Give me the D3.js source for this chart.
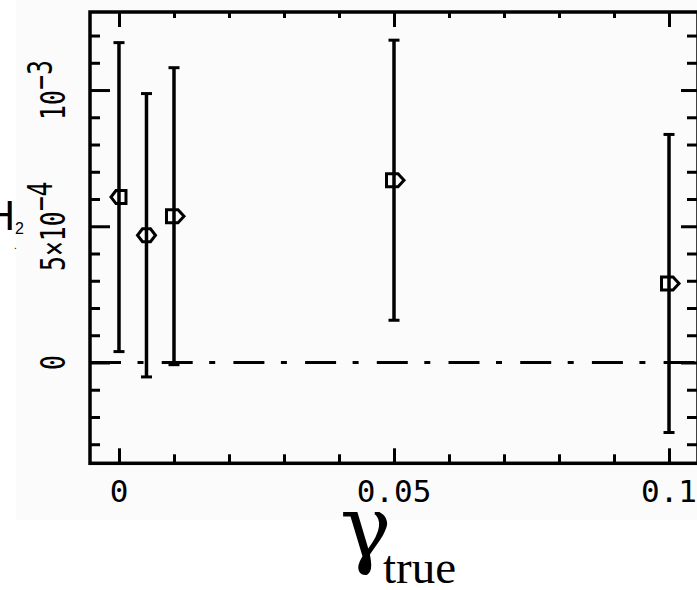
<!DOCTYPE html>
<html>
<head>
<meta charset="utf-8">
<script src="https://cdn.jsdelivr.net/npm/d3@7"></script>
<style>
  html, body { margin: 0; padding: 0; background: #ffffff; }
  svg { display: block; }
</style>
</head>
<body>
<div id="chart"></div>
<script>
// ---- data ----
const gammaTrue = [0, 0.005, 0.01, 0.05, 0.1];
const bias      = [6.07e-4, 4.67e-4, 5.37e-4, 6.69e-4, 2.90e-4];
const biasErr   = [5.67e-4, 5.20e-4, 5.45e-4, 5.14e-4, 5.47e-4];

const xMajorTicks = [0, 0.05, 0.1];
const xTickLabels = ["0", "0.05", "0.1"];
const xMinorTicks = [0.01, 0.02, 0.03, 0.04, 0.06, 0.07, 0.08, 0.09];

const yMajorTicks = [0, 5e-4, 1e-3];
const yMinorTicks = [-3e-4, -2e-4, -1e-4, 1e-4, 2e-4, 3e-4, 4e-4, 6e-4, 7e-4, 8e-4, 9e-4, 1.1e-3, 1.2e-3];
// tick label pieces: [base, superscript]
const yTickLabels = [["0", ""], ["5\u00d710", "\u22124"], ["10", "\u22123"]];

const markerKinds = ["left", "diamond", "right", "right", "right"];

// ---- layout ----
const W = 697, H = 590;
const L = 90, R = 698, T = 12, B = 463.3;

const svg = d3.select("#chart").append("svg")
  .attr("width", W).attr("height", H);

svg.append("rect").attr("x", 16).attr("y", 0).attr("width", W - 16).attr("height", 520)
  .attr("fill", "#fbfbfb");

const x = d3.scaleLinear().domain([-0.00527, 0.10527]).range([L, R]);
const y = d3.scaleLinear().domain([-0.00037, 0.0012864]).range([B, T]);

function tickAxis(axis, transform) {
  const g = svg.append("g").attr("transform", transform).call(axis);
  g.select(".domain").remove();
  g.selectAll(".tick line").attr("stroke", "#000").attr("stroke-width", 3);
  return g;
}

// bottom ticks (inward)
tickAxis(d3.axisBottom(x).tickValues(xMajorTicks).tickSize(-15).tickFormat(""), `translate(0,${B})`);
tickAxis(d3.axisBottom(x).tickValues(xMinorTicks).tickSize(-9).tickFormat(""), `translate(0,${B})`);
// top ticks
tickAxis(d3.axisTop(x).tickValues(xMajorTicks).tickSize(-15).tickFormat(""), `translate(0,${T})`);
tickAxis(d3.axisTop(x).tickValues(xMinorTicks).tickSize(-6).tickFormat(""), `translate(0,${T})`);
// left ticks
tickAxis(d3.axisLeft(y).tickValues(yMajorTicks).tickSize(-20).tickFormat(""), `translate(${L},0)`);
tickAxis(d3.axisLeft(y).tickValues(yMinorTicks).tickSize(-10).tickFormat(""), `translate(${L},0)`);
// right ticks
tickAxis(d3.axisRight(y).tickValues(yMajorTicks).tickSize(-17).tickFormat(""), `translate(${R},0)`);
tickAxis(d3.axisRight(y).tickValues(yMinorTicks).tickSize(-11).tickFormat(""), `translate(${R},0)`);

// frame
svg.append("rect").attr("x", L).attr("y", T).attr("width", R - L).attr("height", B - T)
  .attr("fill", "none").attr("stroke", "#000").attr("stroke-width", 3.5);

// zero line (dash-dot)
svg.append("line")
  .attr("x1", L).attr("x2", R).attr("y1", y(0)).attr("y2", y(0))
  .attr("stroke", "#000").attr("stroke-width", 3)
  .attr("stroke-dasharray", "31,16.5,6,18.2");

// x tick labels
svg.append("g").selectAll("text").data(xMajorTicks).join("text")
  .attr("x", d => x(d)).attr("y", 502)
  .attr("text-anchor", "middle")
  .attr("font-family", "DejaVu Sans Mono")
  .attr("font-size", 31)
  .attr("fill", "#000")
  .text((d, i) => xTickLabels[i]);

// y tick labels (rotated)
const yl = svg.append("g").selectAll("text").data(yMajorTicks).join("text")
  .attr("transform", d => `translate(65,${y(d)}) rotate(-90) scale(0.8,1.08)`)
  .attr("text-anchor", "middle")
  .attr("font-family", "DejaVu Sans Mono")
  .attr("font-size", 31)
  .attr("fill", "#000");
yl.each(function(d, i) {
  const t = d3.select(this);
  t.append("tspan").text(yTickLabels[i][0]);
  if (yTickLabels[i][1]) {
    t.append("tspan").attr("dy", -12).text(yTickLabels[i][1]);
  }
});

// error bars
const eb = svg.append("g");
gammaTrue.forEach((g, i) => {
  const cx = x(g);
  const y1 = y(bias[i] + biasErr[i]), y2 = y(bias[i] - biasErr[i]);
  eb.append("line").attr("x1", cx).attr("x2", cx).attr("y1", y1).attr("y2", y2)
    .attr("stroke", "#000").attr("stroke-width", 3.5);
  [y1, y2].forEach(yy => {
    eb.append("line").attr("x1", cx - 5.5).attr("x2", cx + 5.5).attr("y1", yy).attr("y2", yy)
      .attr("stroke", "#000").attr("stroke-width", 3);
  });
});

// markers
const shapes = {
  left: "M7,-6.5 H-3 L-8,0 L-3,6.5 H7 Z",
  diamond: "M-4,-6.5 H4 L9,0 L4,6.5 H-4 L-9,0 Z",
  right: "M-7.5,-6.5 H4 L10,0 L4,6.5 H-7.5 Z"
};
svg.append("g").selectAll("path").data(gammaTrue).join("path")
  .attr("transform", (d, i) => `translate(${x(d)},${y(bias[i])})`)
  .attr("d", (d, i) => shapes[markerKinds[i]])
  .attr("fill", "none").attr("stroke", "#000").attr("stroke-width", 3);

// x-axis title
svg.append("text").attr("x", 340).attr("y", 557)
  .attr("font-family", "DejaVu Serif").attr("font-size", 86).attr("fill", "#000")
  .text("\u03b3");
svg.append("text").attr("x", 383).attr("y", 583)
  .attr("font-family", "Liberation Serif").attr("font-size", 47).attr("fill", "#000")
  .text("true");

// y-axis title (mostly clipped at left edge)
svg.append("text").attr("x", 15).attr("y", 230).attr("text-anchor", "end")
  .attr("font-family", "Liberation Sans").attr("font-size", 42).attr("fill", "#000").text("H");
svg.append("text").attr("x", 15).attr("y", 234)
  .attr("font-family", "Liberation Sans").attr("font-size", 16).attr("fill", "#000").text("2");
svg.append("text").attr("x", -6).attr("y", 251)
  .attr("font-family", "Liberation Sans").attr("font-size", 28).attr("fill", "#000").text(".");
svg.append("text").attr("x", 14).attr("y", 249)
  .attr("font-family", "Liberation Sans").attr("font-size", 10).attr("fill", "#000").text(".");
</script>
</body>
</html>
